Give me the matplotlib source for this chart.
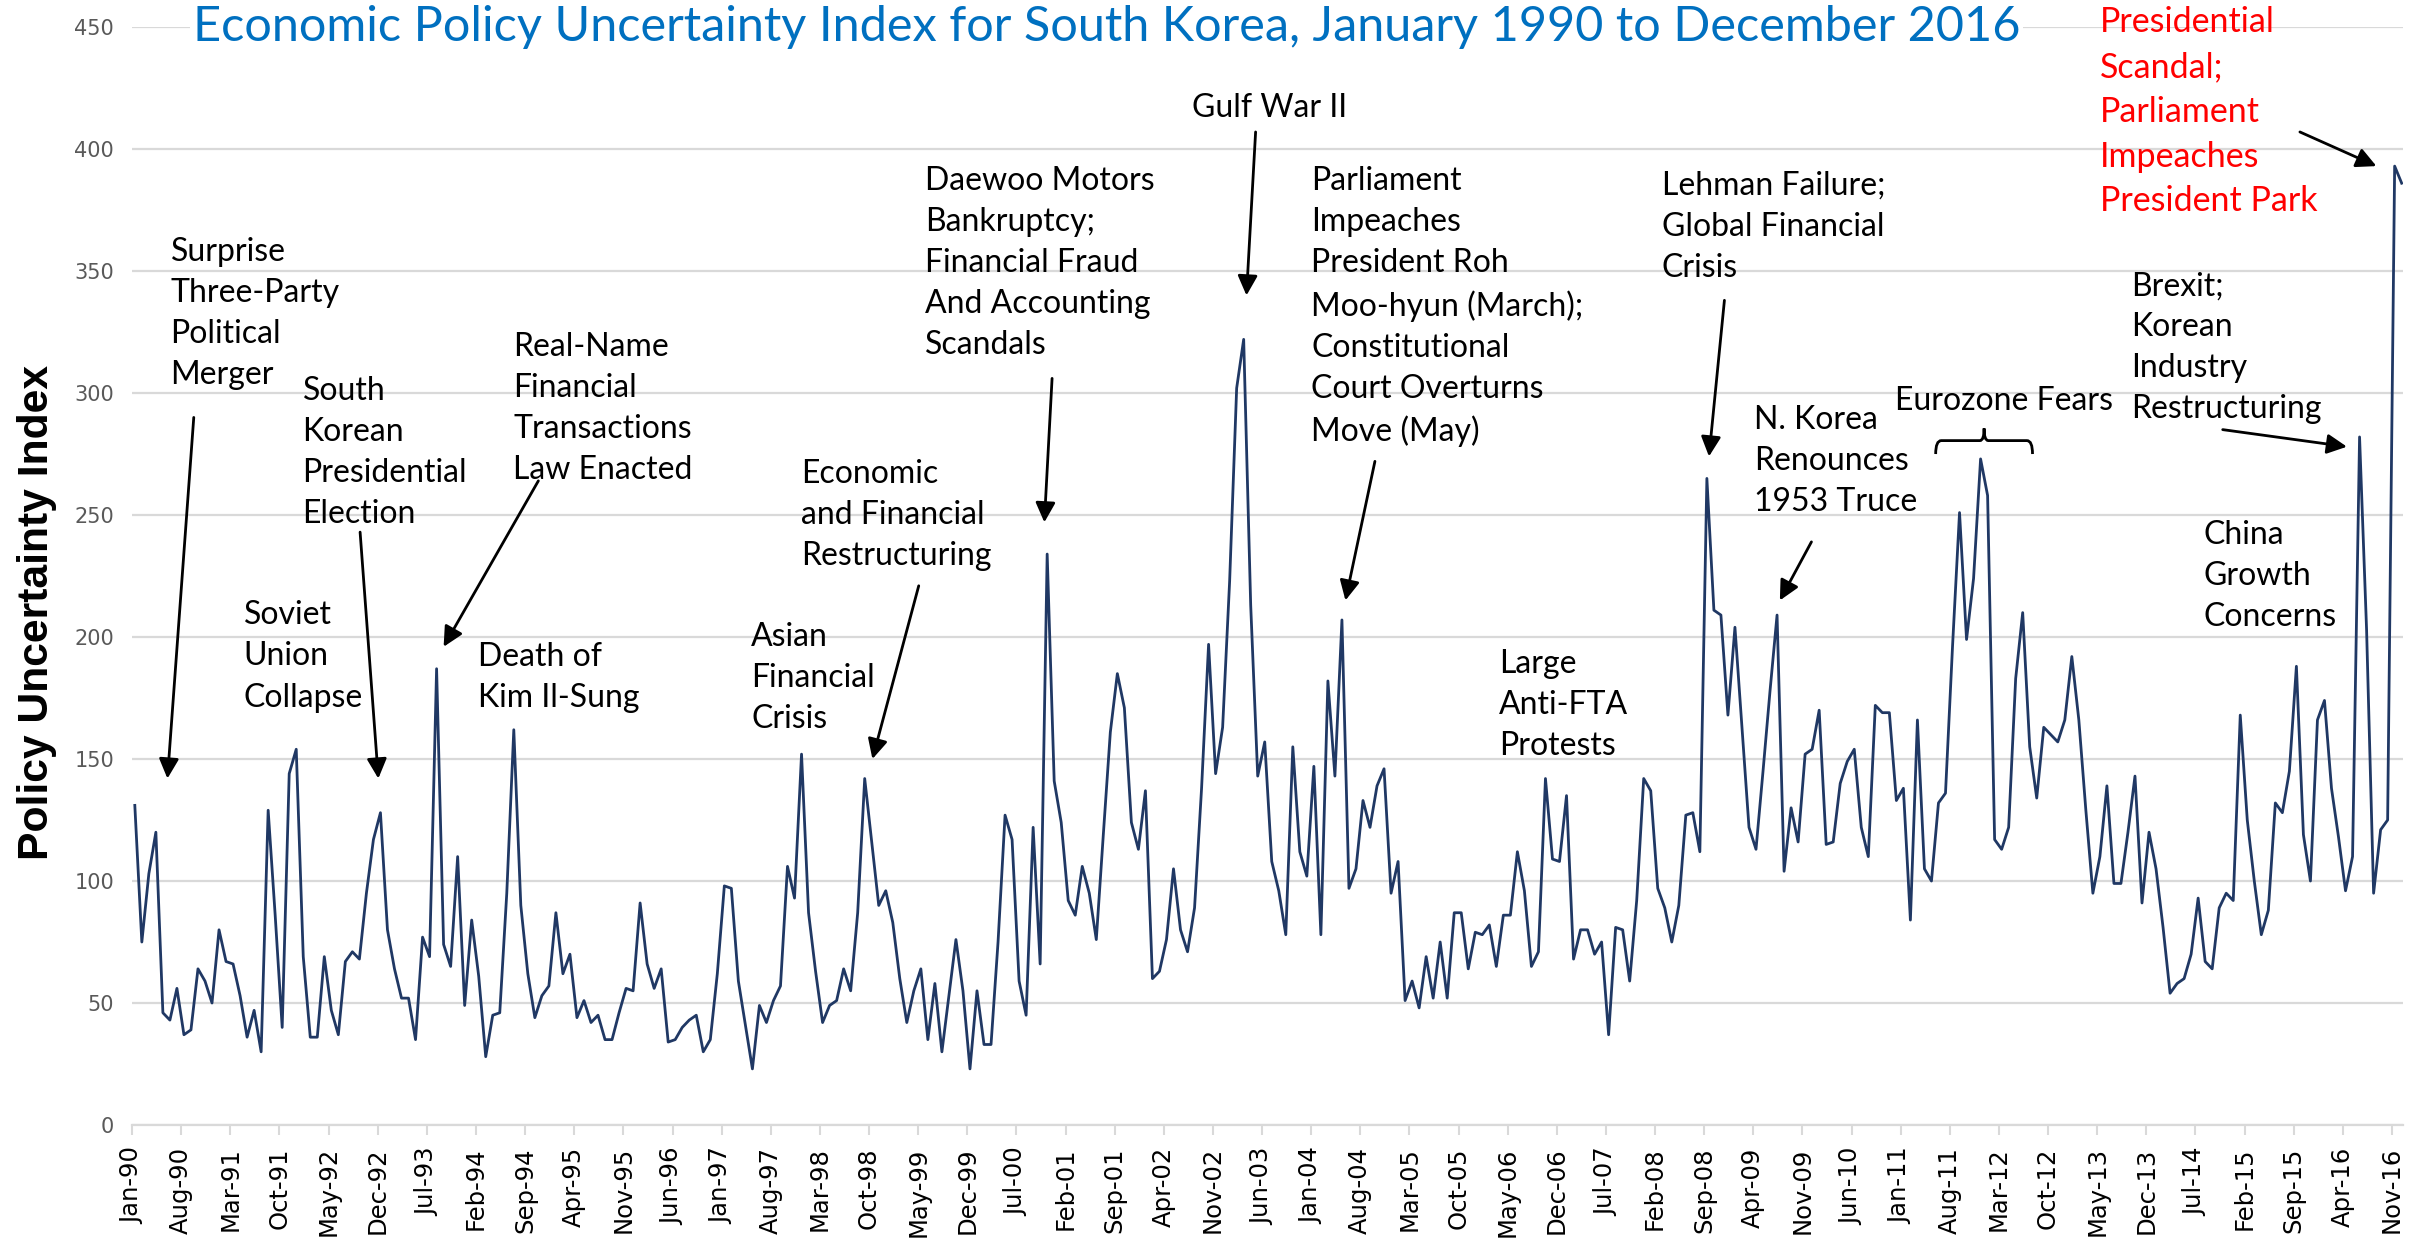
import numpy as np
import matplotlib.pyplot as plt
from matplotlib.path import Path
from matplotlib.patches import PathPatch

# monthly EPU index for South Korea, Jan 1990 - Dec 2016 (one row per year)
epu_1990s = [
    131, 75, 103, 120, 46, 43, 56, 37, 39, 64, 59, 50,
    80, 67, 66, 53, 36, 47, 30, 129, 86, 40, 144, 154,
    69, 36, 36, 69, 47, 37, 67, 71, 68, 95, 117, 128,
    80, 64, 52, 52, 35, 77, 69, 187, 74, 65, 110, 49,
    84, 61, 28, 45, 46, 95, 162, 90, 62, 44, 53, 57,
    87, 62, 70, 44, 51, 42, 45, 35, 35, 46, 56, 55,
    91, 66, 56, 64, 34, 35, 40, 43, 45, 30, 35, 62,
    98, 97, 59, 41, 23, 49, 42, 51, 57, 106, 93, 152,
    87, 63, 42, 49, 51, 64, 55, 87, 142, 116, 90, 96,
    83, 60, 42, 55, 64, 35, 58, 30, 53, 76, 55, 23]
epu_2000s = [
    55, 33, 33, 75, 127, 117, 59, 45, 122, 66, 234, 141,
    124, 92, 86, 106, 95, 76, 119, 161, 185, 171, 124, 113,
    137, 60, 63, 76, 105, 80, 71, 89, 138, 197, 144, 163,
    223, 302, 322, 213, 143, 157, 108, 96, 78, 155, 112, 102,
    147, 78, 182, 143, 207, 97, 105, 133, 122, 139, 146, 95,
    108, 51, 59, 48, 69, 52, 75, 52, 87, 87, 64, 79,
    78, 82, 65, 86, 86, 112, 96, 65, 71, 142, 109, 108,
    135, 68, 80, 80, 70, 75, 37, 81, 80, 59, 92, 142,
    137, 97, 89, 75, 90, 127, 128, 112, 265, 211, 209, 168,
    204, 163, 122, 113, 145, 178, 209, 104, 130, 116, 152, 154]
epu_2010s = [
    170, 115, 116, 140, 149, 154, 122, 110, 172, 169, 169, 133,
    138, 84, 166, 105, 100, 132, 136, 196, 251, 199, 224, 273,
    258, 117, 113, 122, 183, 210, 155, 134, 163, 160, 157, 166,
    192, 166, 129, 95, 110, 139, 99, 99, 120, 143, 91, 120,
    105, 81, 54, 58, 60, 70, 93, 67, 64, 89, 95, 92,
    168, 125, 100, 78, 88, 132, 128, 145, 188, 119, 100, 166,
    174, 138, 118, 96, 110, 282, 203, 95, 121, 125, 393, 386]

month_names = ["Jan", "Feb", "Mar", "Apr", "May", "Jun",
               "Jul", "Aug", "Sep", "Oct", "Nov", "Dec"]
start_year = 1990
tick_step = 7
y_ticks = list(range(0, 451, 50))

# annotation texts: (label, x month, top value)
events = [
    ("Surprise\nThree-Party\nPolitical\nMerger", 5.1, 364),
    ("South\nKorean\nPresidential\nElection", 23.9, 307),
    ("Soviet\nUnion\nCollapse", 15.5, 215),
    ("Real-Name\nFinancial\nTransactions\nLaw Enacted", 53.9, 325),
    ("Death of\nKim Il-Sung", 48.9, 198),
    ("Asian\nFinancial\nCrisis", 87.8, 206),
    ("Economic\nand Financial\nRestructuring", 94.9, 273),
    ("Daewoo Motors\nBankruptcy;\nFinancial Fraud\nAnd Accounting\nScandals",
     112.6, 393),
    ("Gulf War II", 150.6, 423),
    ("Parliament\nImpeaches\nPresident Roh\nMoo-hyun (March);\n"
     "Constitutional\nCourt Overturns\nMove (May)", 167.6, 393),
    ("Large\nAnti-FTA\nProtests", 194.4, 195),
    ("Lehman Failure;\nGlobal Financial\nCrisis", 217.6, 391),
    ("N. Korea\nRenounces\n1953 Truce", 230.7, 295),
    ("Eurozone Fears", 250.8, 303),
    ("China\nGrowth\nConcerns", 294.8, 248),
    ("Brexit;\nKorean\nIndustry\nRestructuring", 284.5, 350),
]
red_event = ("Presidential\nScandal;\nParliament\nImpeaches\nPresident Park",
             280.0, 458.5)

# arrows: (tail x, tail y, head x, head y)
arrows = [
    (8.4, 290, 4.65, 142),
    (32.1, 243, 34.7, 142),
    (57.5, 264, 44.0, 196),
    (111.7, 221, 105.1, 150),
    (130.7, 306, 129.6, 247),
    (159.7, 407, 158.4, 340),
    (176.7, 272, 172.5, 215),
    (226.5, 338, 224.3, 274),
    (238.9, 239, 234.4, 215),
    (297.5, 285, 315.2, 278),
    (308.5, 407, 319.4, 393),
]

values = np.array(epu_1990s + epu_2000s + epu_2010s, dtype=float)
months = np.arange(len(values))

tick_pos = np.arange(0, len(values), tick_step) - 0.385
tick_labels = [f"{month_names[m % 12]}-{(start_year + m // 12) % 100:02d}"
               for m in range(0, len(values), tick_step)]

txt_font = ["Lato", "DejaVu Sans"]

fig = plt.figure(figsize=(24.33, 12.46), dpi=100)
ax = fig.add_axes([0.0543, 0.0971, 0.9334, 0.8812])

ax.plot(months, values, color="#203864", lw=2.0, zorder=3)

ax.set_xlim(-0.385, 323.2)
ax.set_ylim(0, 450)
ax.set_yticks(y_ticks)
ax.yaxis.grid(True, color="#D9D9D9", lw=1.6)
ax.set_axisbelow(True)
ax.tick_params(axis="y", length=0, pad=13, labelsize=15, labelcolor="#595959")
ax.set_xticks(tick_pos)
ax.set_xticklabels(tick_labels, rotation=90, fontsize=17.5)
ax.tick_params(axis="x", length=7, width=1.5, color="#D9D9D9", pad=9)
for side in ["left", "right", "top"]:
    ax.spines[side].set_visible(False)
ax.spines["bottom"].set_color("#D9D9D9")
ax.spines["bottom"].set_linewidth(1.6)

ax.set_ylabel("Policy Uncertainty Index", fontsize=30.7, fontweight="bold",
              family=["Liberation Sans", "DejaVu Sans"])
ax.yaxis.set_label_coords(-0.033, 0.467)

ax.text(138.5, 450, "Economic Policy Uncertainty Index for South Korea, "
        "January 1990 to December 2016", ha="center", va="center",
        fontsize=35, color="#0070C0", family=txt_font,
        bbox=dict(facecolor="white", edgecolor="none", pad=2), zorder=4)

for label, x, y in events:
    ax.text(x, y, label, ha="left", va="top", fontsize=23,
            linespacing=1.46, family=txt_font, color="black", clip_on=False)
ax.text(red_event[1], red_event[2], red_event[0], ha="left", va="top",
        fontsize=24.5, linespacing=1.49, family=txt_font, color="#FF0000",
        clip_on=False)

for x0, y0, x1, y1 in arrows:
    ax.annotate("", xy=(x1, y1), xytext=(x0, y0), annotation_clip=False,
                arrowprops=dict(arrowstyle="-|>", color="black", lw=2,
                                mutation_scale=30, shrinkA=0, shrinkB=0))

# curly brace over the eurozone period
bx0, bx1, b_end, b_bar, b_tip = 256.6, 270.4, 275, 280.5, 285.5
bm = (bx0 + bx1) / 2
verts = [(bx0, b_end), (bx0, b_bar), (bx0 + 0.8, b_bar),
         (bm - 0.6, b_bar), (bm, b_bar), (bm, b_tip),
         (bm, b_bar), (bm + 0.6, b_bar),
         (bx1 - 0.8, b_bar), (bx1, b_bar), (bx1, b_end)]
codes = [Path.MOVETO, Path.CURVE3, Path.CURVE3,
         Path.LINETO, Path.CURVE3, Path.CURVE3,
         Path.CURVE3, Path.CURVE3,
         Path.LINETO, Path.CURVE3, Path.CURVE3]
ax.add_patch(PathPatch(Path(verts, codes), fill=False, lw=2,
                       edgecolor="black"))

fig.savefig("out.png", dpi=100, facecolor="white")
